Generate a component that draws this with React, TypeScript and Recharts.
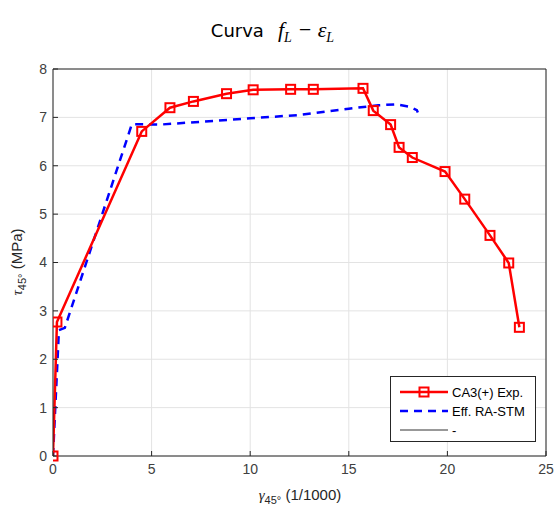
import React from 'react';
import { LineChart, Line, XAxis, YAxis, CartesianGrid, ReferenceLine } from 'recharts';

// CA3(+) Exp. (experimental curve)
const expStrain = [0, 0.2, 4.5, 5.93, 7.12, 8.8, 10.15, 12.05, 13.2, 15.72, 16.24, 17.12, 17.55, 18.22, 19.88, 20.88, 22.16, 23.11, 23.65];
const expStress = [0, 2.77, 6.71, 7.2, 7.33, 7.49, 7.57, 7.58, 7.58, 7.6, 7.14, 6.85, 6.38, 6.17, 5.88, 5.31, 4.56, 3.99, 2.66];

// Eff. RA-STM (model curve)
const stmStrain = [0, 0.3, 0.6, 4.0, 5.4, 10.0, 12.5, 15.0, 16.5, 17.4, 18.1, 18.45, 18.5];
const stmStress = [0, 2.6, 2.65, 6.86, 6.85, 6.98, 7.05, 7.18, 7.25, 7.27, 7.22, 7.15, 7.1];

const xTicks = [0, 5, 10, 15, 20, 25];
const yTicks = [0, 1, 2, 3, 4, 5, 6, 7, 8];

const expData = expStrain.map((x, i) => ({ x, y: expStress[i] }));
const stmData = stmStrain.map((x, i) => ({ x, y: stmStress[i] }));

const AXIS = '#262626';
const FONT = '"Liberation Sans", Arial, sans-serif';

const SquareDot = (props: any) => {
  const { cx, cy } = props;
  if (cx == null || cy == null) return null;
  return <rect x={cx - 4.5} y={cy - 4.5} width={9} height={9} fill="none" stroke="#ff0000" strokeWidth={2} />;
};

const LegendBox = () => (
  <div style={{ position: 'absolute', left: 390, top: 376, width: 144, height: 64, border: '1px solid #262626', background: 'white' }}>
    <svg width={144} height={64} style={{ display: 'block' }}>
      <g fontFamily={FONT} fontSize={13} fill="#000">
        <line x1={9} x2={57} y1={15} y2={15} stroke="#ff0000" strokeWidth={2.5} />
        <rect x={28.5} y={10.5} width={9} height={9} fill="none" stroke="#ff0000" strokeWidth={2} />
        <text x={61} y={20}>CA3(+) Exp.</text>
        <line x1={9} x2={57} y1={34} y2={34} stroke="#0000ff" strokeWidth={2.5} strokeDasharray="8 6" />
        <text x={61} y={39}>Eff. RA-STM</text>
        <line x1={9} x2={57} y1={53} y2={53} stroke="#333" strokeWidth={1} />
        <text x={61} y={58}>-</text>
      </g>
    </svg>
  </div>
);

const YLabel = () => (
  <text transform="translate(22,262) rotate(-90)" textAnchor="middle" fontFamily={FONT} fontSize={15} fill={AXIS}>
    <tspan fontStyle="italic" fontFamily='"Liberation Serif", serif' fontSize={15}>τ</tspan>
    <tspan fontSize={11} dy={4}>45°</tspan>
    <tspan dy={-4}> (MPa)</tspan>
  </text>
);

const XLabel = () => (
  <text x={300} y={500} textAnchor="middle" fontFamily={FONT} fontSize={15} fill={AXIS}>
    <tspan fontStyle="italic" fontFamily='"Liberation Serif", serif' fontSize={15}>γ</tspan>
    <tspan fontSize={11} dy={4}>45°</tspan>
    <tspan dy={-4}> (1/1000)</tspan>
  </text>
);

export default function App() {
  return (
    <div style={{ position: 'absolute', left: 0, top: 0, width: 557, height: 514, background: 'white' }}>
      <LineChart width={557} height={514} margin={{ top: 69, right: 11, bottom: 0, left: 0 }}>
        <CartesianGrid stroke="#e3e3e3" strokeWidth={1} />
        <XAxis
          type="number"
          dataKey="x"
          domain={[0, 25]}
          ticks={xTicks}
          allowDataOverflow
          height={58}
          tickSize={-5}
          tickMargin={13}
          stroke={AXIS}
          tick={{ fill: '#404040', fontSize: 14, fontFamily: FONT }}
        />
        <YAxis
          type="number"
          dataKey="y"
          domain={[0, 8]}
          ticks={yTicks}
          width={53}
          tickSize={-5}
          tickMargin={11}
          stroke={AXIS}
          tick={{ fill: '#404040', fontSize: 14, fontFamily: FONT }}
        />
        <ReferenceLine y={8} stroke={AXIS} strokeWidth={1} />
        <ReferenceLine x={25} stroke={AXIS} strokeWidth={1} />
        <Line
          data={stmData}
          dataKey="y"
          name="Eff. RA-STM"
          stroke="#0000ff"
          strokeWidth={2.5}
          strokeDasharray="8 6"
          dot={false}
          isAnimationActive={false}
        />
        <Line
          data={expData}
          dataKey="y"
          name="CA3(+) Exp."
          stroke="#ff0000"
          strokeWidth={2.5}
          dot={<SquareDot />}
          isAnimationActive={false}
        />
        <Line data={[]} dataKey="y" name="-" stroke="#333" strokeWidth={1} dot={false} isAnimationActive={false} />
        <YLabel />
        <XLabel />
      </LineChart>
      <div style={{ position: 'absolute', left: 0, top: 17, width: 557, textAlign: 'center', color: '#000', whiteSpace: 'nowrap' }}>
        <span style={{ fontFamily: '"DejaVu Sans", sans-serif', fontSize: 18, marginLeft: -12 }}>Curva</span>
        <span style={{ fontFamily: '"Liberation Serif", serif', fontStyle: 'italic', fontSize: 22, marginLeft: 14 }}>
          f<sub style={{ fontSize: 14 }}>L</sub> − ε<sub style={{ fontSize: 14 }}>L</sub>
        </span>
      </div>
      <LegendBox />
    </div>
  );
}
